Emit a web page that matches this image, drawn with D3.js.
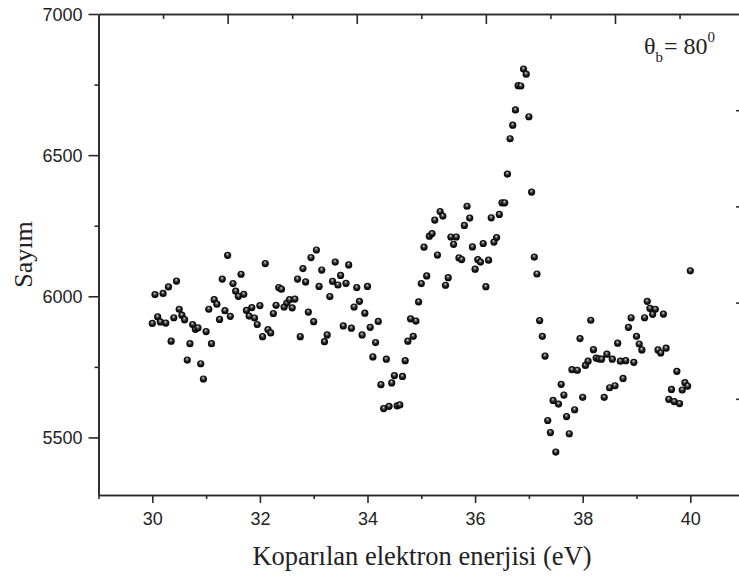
<!DOCTYPE html>
<html><head><meta charset="utf-8">
<script src="https://cdn.jsdelivr.net/npm/d3@7"></script>
<style>html,body{margin:0;padding:0;background:#fff;overflow:hidden}</style>
</head><body><svg id="c" width="739" height="576"></svg>
<script>
const energy = [
30,30.05,30.1,30.15,30.2,30.25,30.3,30.35,30.4,30.45,
30.5,30.55,30.6,30.65,30.7,30.75,30.8,30.85,30.9,30.95,
31,31.05,31.1,31.15,31.2,31.25,31.3,31.35,31.4,31.45,
31.5,31.55,31.6,31.65,31.7,31.75,31.8,31.85,31.9,31.95,
32,32.05,32.1,32.15,32.2,32.25,32.3,32.35,32.4,32.45,
32.5,32.55,32.6,32.65,32.7,32.75,32.8,32.85,32.9,32.95,
33,33.05,33.1,33.15,33.2,33.25,33.3,33.35,33.4,33.45,
33.5,33.55,33.6,33.65,33.7,33.75,33.8,33.85,33.9,33.95,
34,34.05,34.1,34.15,34.2,34.25,34.3,34.35,34.4,34.45,
34.5,34.55,34.6,34.65,34.7,34.75,34.8,34.85,34.9,34.95,
35,35.05,35.1,35.15,35.2,35.25,35.3,35.35,35.4,35.45,
35.5,35.55,35.6,35.65,35.7,35.75,35.8,35.85,35.9,35.95,
36,36.05,36.1,36.15,36.2,36.25,36.3,36.35,36.4,36.45,
36.5,36.55,36.6,36.65,36.7,36.75,36.8,36.85,36.9,36.95,
37,37.05,37.1,37.15,37.2,37.25,37.3,37.35,37.4,37.45,
37.5,37.55,37.6,37.65,37.7,37.75,37.8,37.85,37.9,37.95,
38,38.05,38.1,38.15,38.2,38.25,38.3,38.35,38.4,38.45,
38.5,38.55,38.6,38.65,38.7,38.75,38.8,38.85,38.9,38.95,
39,39.05,39.1,39.15,39.2,39.25,39.3,39.35,39.4,39.45,
39.5,39.55,39.6,39.65,39.7,39.75,39.8,39.85,39.9,39.95,
40];
const counts = [
5904,6006,5927,5909,6010,5905,6033,5841,5924,6054,
5954,5933,5917,5774,5832,5900,5883,5888,5761,5707,
5875,5954,5832,5988,5972,5918,6061,5949,6145,5929,
6045,6018,6000,6078,6007,5950,5930,5960,5923,5900,
5967,5857,6116,5882,5870,5939,5968,6031,6025,5962,
5976,5988,5959,5990,6061,5857,6098,6051,5944,6137,
5910,6164,6035,6093,5839,5863,5999,6053,6121,6040,
6074,5895,6046,6111,5887,5962,6031,5982,5863,5940,
6035,5890,5785,5836,5911,5687,5602,5777,5610,5693,
5719,5612,5615,5716,5772,5841,5920,5858,5912,5980,
6045,6174,6072,6213,6222,6270,6146,6300,6284,6039,
6066,6210,6184,6210,6136,6130,6251,6319,6277,6175,
6096,6130,6121,6187,6034,6128,6278,6192,6208,6290,
6331,6331,6433,6558,6606,6660,6746,6745,6805,6787,
6636,6369,6139,6079,5914,5858,5788,5560,5517,5631,
5448,5618,5688,5650,5574,5513,5740,5598,5738,5850,
5642,5755,5770,5915,5811,5781,5778,5777,5642,5795,
5676,5777,5683,5834,5770,5709,5772,5890,5924,5766,
5858,5831,5810,5924,5982,5957,5936,5954,5810,5799,
5937,5816,5635,5670,5627,5734,5620,5668,5694,5682,
6090];
const xTicks = [30,32,34,36,38,40];
const xMinor = [29,31,33,35,37,39,41];
const yTicks = [5500,6000,6500,7000];
const yMinor = [5750,6250,6750];
const topMajor = [1,2,3,4];
const topMinor = [0.5,1.5,2.5,3.5,4.5];
const xLabel = "Koparılan elektron enerjisi (eV)";
const yLabel = "Sayım";

const svg = d3.select("#c");
svg.append("rect").attr("width",739).attr("height",576).attr("fill","#fff");

const L = 98.5, R = 744.1, T = 14, B = 495;
const x = d3.scaleLinear().domain([29,41]).range([L,R]);
const y = d3.scaleLinear().domain([5296,7000]).range([B,T]);
const xt = d3.scaleLinear().domain([0,5]).range([L,R]);
const yr = d3.scaleLinear().domain([0,5]).range([B,T]);

const axCol = "#2a2a2a";
function style(g){
  g.selectAll("path.domain").attr("stroke",axCol).attr("stroke-width",1.6);
  g.selectAll(".tick line").attr("stroke",axCol).attr("stroke-width",1.6);
  g.selectAll(".tick text").attr("fill","#222").attr("font-family","'Liberation Sans', Arial, sans-serif").attr("font-size",18);
}

// bottom
const gb = svg.append("g").attr("transform",`translate(0,${B})`)
  .call(d3.axisBottom(x).tickValues(xTicks).tickSize(8).tickPadding(9).tickSizeOuter(0).tickFormat(d3.format("d")));
style(gb);
const gbm = svg.append("g").attr("transform",`translate(0,${B})`)
  .call(d3.axisBottom(x).tickValues(xMinor).tickSize(4).tickSizeOuter(0).tickFormat(""));
style(gbm);
// left
const gl = svg.append("g").attr("transform",`translate(${L},0)`)
  .call(d3.axisLeft(y).tickValues(yTicks).tickSize(10).tickPadding(6).tickSizeOuter(0).tickFormat(d3.format("d")));
style(gl);
gl.selectAll(".tick text").attr("dy","0.36em");
const glm = svg.append("g").attr("transform",`translate(${L},0)`)
  .call(d3.axisLeft(y).tickValues(yMinor).tickSize(4).tickSizeOuter(0).tickFormat(""));
style(glm);
// top
const gt = svg.append("g").attr("transform",`translate(0,${T})`)
  .call(d3.axisTop(xt).tickValues(topMajor).tickSize(-10).tickSizeOuter(0).tickFormat(""));
style(gt);
const gtm = svg.append("g").attr("transform",`translate(0,${T})`)
  .call(d3.axisTop(xt).tickValues(topMinor).tickSize(-5).tickSizeOuter(0).tickFormat(""));
style(gtm);
// right
const gr = svg.append("g").attr("transform",`translate(${R},0)`)
  .call(d3.axisRight(yr).tickValues(topMajor).tickSize(-8).tickSizeOuter(0).tickFormat(""));
style(gr);
const grm = svg.append("g").attr("transform",`translate(${R},0)`)
  .call(d3.axisRight(yr).tickValues(topMinor).tickSize(-4).tickSizeOuter(0).tickFormat(""));
style(grm);

// gradient for ball markers
const defs = svg.append("defs");
const rg = defs.append("radialGradient").attr("id","ball").attr("cx","0.5").attr("cy","0.5").attr("r","0.5").attr("fx","0.45").attr("fy","0.3");
rg.append("stop").attr("offset","0%").attr("stop-color","#e8e8e8");
rg.append("stop").attr("offset","25%").attr("stop-color","#777");
rg.append("stop").attr("offset","60%").attr("stop-color","#1a1a1a");
rg.append("stop").attr("offset","100%").attr("stop-color","#000");

const pts = energy.map((e,i)=>({e, c:counts[i]}));
svg.append("g").selectAll("circle").data(pts).join("circle")
  .attr("cx",d=>x(d.e)).attr("cy",d=>y(d.c)).attr("r",3.6)
  .attr("fill","url(#ball)");

// labels
svg.append("text").attr("x",422).attr("y",565).attr("text-anchor","middle")
  .attr("font-family","'Liberation Serif','Times New Roman',serif").attr("font-size",26.5).attr("fill","#222")
  .text(xLabel);
svg.append("text").attr("transform",`translate(32,${(T+B)/2}) rotate(-90)`).attr("text-anchor","middle")
  .attr("font-family","'Liberation Serif','Times New Roman',serif").attr("font-size",26).attr("fill","#222")
  .text(yLabel);

// annotation
const ann = svg.append("text").attr("x",644).attr("y",54)
  .attr("font-family","'Liberation Serif','Times New Roman',serif").attr("font-size",24).attr("fill","#222");
ann.append("tspan").text("θ");
ann.append("tspan").attr("font-size",15).attr("dy",8).text("b");
ann.append("tspan").attr("font-size",24).attr("dy",-8).attr("dx",1).text("= 80");
ann.append("tspan").attr("font-size",15).attr("dy",-12).text("0");
</script>
</body></html>
